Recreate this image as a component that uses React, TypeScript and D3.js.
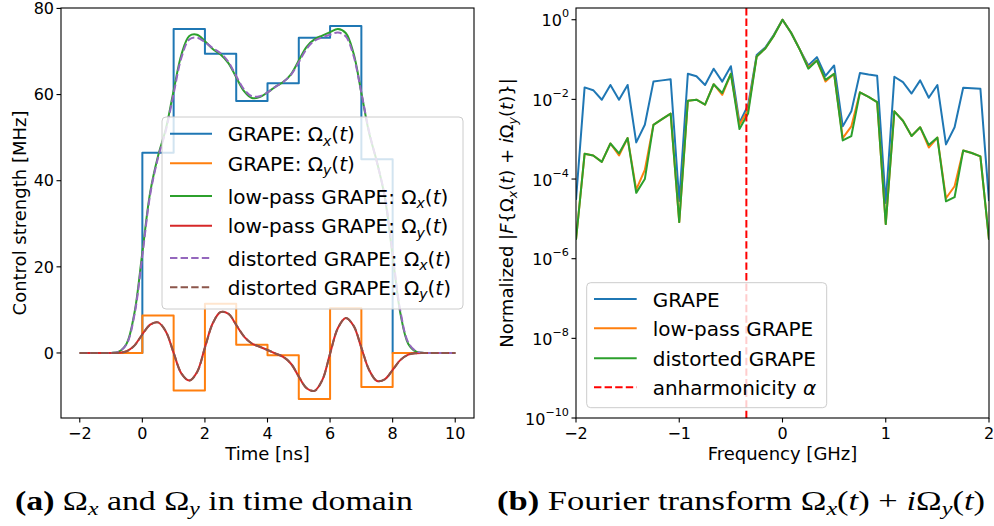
import React from 'react';
import * as d3 from 'd3';

// ---------- (a) control amplitudes in the time domain ----------
const stepTimes = [-2, 0, 1, 2, 3, 4, 5, 6, 7, 8, 10];
const grapeOmegaX = [0, 46.5, 75.2, 69.5, 58.5, 62.6, 73.2, 75.9, 45.0, 0, 0];
const grapeOmegaY = [0, 8.7, -8.7, 11.4, 1.9, -0.55, -10.7, 10.4, -7.9, 0, 0];

// smooth pulses sampled every 0.25 ns from -2 to 10 ns
const smoothTimes = d3.range(-2, 10.0001, 0.25);
const lowpassOmegaX = [
  0, 0, 0, 0, 0, 0.3, 2.2, 9.4,
  23.3, 37.3, 45.7, 52.0, 60.9, 69.3, 73.6, 73.9,
  72.4, 70.6, 69.3, 67.3, 64.0, 60.8, 59.2, 59.4,
  60.5, 61.8, 62.9, 64.7, 67.9, 71.1, 72.8, 73.7,
  74.5, 75.2, 74.3, 69.6, 60.4, 51.0, 44.3, 36.1,
  22.5, 9.1, 2.1, 0.3, 0, 0, 0, 0, 0,
];
const lowpassOmegaY = [
  0, 0, 0, 0, 0, 0.05, 0.41, 1.76,
  4.35, 6.6, 7.1, 5.0, 0.0, -4.8, -6.4, -4.4,
  1.3, 6.9, 9.5, 9.1, 6.5, 3.8, 2.2, 1.45,
  0.68, -0.12, -0.9, -2.5, -5.5, -8.2, -8.8, -6.3,
  -0.15, 5.8, 8.1, 6.3, 1.2, -4.0, -6.5, -6.1,
  -3.9, -1.6, -0.38, -0.05, 0, 0, 0, 0, 0,
];
const distortedOmegaX = [
  0, 0, 0, 0, 0, 0.3, 2.1, 9.0,
  22.6, 36.8, 45.3, 51.6, 60.2, 68.6, 72.8, 73.2,
  72.2, 70.8, 69.6, 67.6, 64.3, 61.2, 59.6, 59.6,
  60.5, 61.8, 62.9, 64.6, 67.5, 70.6, 72.5, 73.3,
  73.9, 74.4, 73.5, 69.0, 60.4, 51.3, 44.2, 36.4,
  23.0, 9.6, 2.4, 0.4, 0, 0, 0, 0, 0,
];
const distortedOmegaY = [
  0, 0, 0, 0, 0, 0.05, 0.4, 1.7,
  4.3, 6.55, 7.1, 5.05, 0.05, -4.75, -6.4, -4.45,
  1.2, 6.85, 9.5, 9.15, 6.55, 3.85, 2.2, 1.45,
  0.7, -0.1, -0.88, -2.45, -5.45, -8.15, -8.8, -6.35,
  -0.2, 5.75, 8.1, 6.35, 1.25, -3.95, -6.5, -6.15,
  -3.95, -1.65, -0.4, -0.06, 0, 0, 0, 0, 0,
];

// ---------- (b) normalised spectra |F{Ωx + iΩy}| ----------
// FFT bins spaced 1/12 GHz, from -2 GHz to 2 GHz
const freqs = d3.range(-24, 25).map((k) => k / 12);
const spectrumGrape = [
  3.0e-5, 2.0e-2, 1.7e-2, 9.8e-3, 2.3e-2, 9.8e-3, 2.3e-2, 8.3e-4, 2.3e-3, 2.8e-2,
  3.0e-2, 3.2e-2, 2.8e-5, 4.4e-2, 3.8e-2, 2.3e-2, 5.9e-2, 2.8e-2, 6.8e-2, 2.6e-3,
  7.1e-3, 0.13, 0.2, 0.42, 1.0, 0.47, 0.18, 7.1e-2, 0.115, 3.9e-2,
  7.1e-2, 2.1e-3, 5.0e-3, 4.6e-2, 4.2e-2, 3.9e-2, 2.5e-5, 3.7e-2, 2.7e-2, 1.4e-2,
  3.0e-2, 1.1e-2, 2.3e-2, 7.4e-4, 2.0e-3, 1.95e-2, 1.9e-2, 1.85e-2, 2.8e-5,
];
const spectrumLowpass = [
  3.0e-6, 4.3e-4, 3.9e-4, 2.7e-4, 7.8e-4, 3.9e-4, 1.07e-3, 5.4e-5, 1.7e-4, 2.3e-3,
  3.2e-3, 4.4e-3, 8.3e-6, 9.3e-3, 9.8e-3, 7.4e-3, 2.4e-2, 1.3e-2, 4.4e-2, 2.3e-3,
  5.5e-3, 0.12, 0.19, 0.4, 1.0, 0.47, 0.18, 6.3e-2, 9.5e-2, 2.8e-2,
  4.4e-2, 1.07e-3, 2.1e-3, 1.5e-2, 1.15e-2, 8.5e-3, 7.4e-6, 5.0e-3, 2.9e-3, 1.2e-3,
  2.0e-3, 6.2e-4, 1.1e-3, 3.3e-5, 6.6e-5, 5.2e-4, 4.5e-4, 3.7e-4, 3.0e-6,
];
const spectrumDistorted = [
  3.0e-6, 4.3e-4, 3.9e-4, 2.7e-4, 7.8e-4, 4.4e-4, 1.07e-3, 4.5e-5, 1.0e-4, 2.3e-3,
  3.2e-3, 4.4e-3, 8.3e-6, 9.3e-3, 9.8e-3, 7.4e-3, 2.4e-2, 1.45e-2, 4.4e-2, 1.8e-3,
  4.4e-3, 0.12, 0.19, 0.4, 1.0, 0.47, 0.18, 5.9e-2, 9.5e-2, 3.1e-2,
  4.4e-2, 9.3e-4, 1.2e-3, 1.5e-2, 1.15e-2, 8.5e-3, 7.4e-6, 5.0e-3, 2.9e-3, 1.2e-3,
  2.0e-3, 7.2e-4, 1.1e-3, 2.75e-5, 3.5e-5, 5.2e-4, 4.5e-4, 3.7e-4, 3.0e-6,
];
const anharmonicity = -0.35; // GHz

const timeTicks = [-2, 0, 2, 4, 6, 8, 10];
const strengthTicks = [0, 20, 40, 60, 80];
const freqTicks = [-2, -1, 0, 1, 2];
const logExponents = [0, -2, -4, -6, -8, -10];

const C = {
  blue: '#1f77b4',
  orange: '#ff7f0e',
  green: '#2ca02c',
  red: '#d62728',
  purple: '#9467bd',
  brown: '#8c564b',
};

const SANS = "'DejaVu Sans', sans-serif";
const SERIF = "'Liberation Serif', 'DejaVu Serif', serif";
const MINUS = '\u2212';
const fmt = (v: number) => (v < 0 ? MINUS + Math.abs(v) : String(v));

// Ω_sub(t) as SVG tspans
function omegaOfT(sub: string, fs: number, key: string) {
  const drop = fs * 0.22;
  return [
    <tspan key={key + 'o'}>Ω</tspan>,
    <tspan key={key + 's'} fontStyle="italic" fontSize={fs * 0.7} dy={drop}>{sub}</tspan>,
    <tspan key={key + 'p'} dy={-drop}>(</tspan>,
    <tspan key={key + 't'} fontStyle="italic">t</tspan>,
    <tspan key={key + 'c'}>)</tspan>,
  ];
}

export default function App() {
  // panel (a) geometry
  const ax = { l: 61, r: 474, t: 8, b: 418 };
  const xT = d3.scaleLinear().domain([-2.6, 10.6]).range([ax.l, ax.r]);
  const yS = d3.scaleLinear().domain([-15.1, 80.1]).range([ax.b, ax.t]);

  // panel (b) geometry
  const bx = { l: 576, r: 989, t: 8, b: 418 };
  const xF = d3.scaleLinear().domain([-2, 2]).range([bx.l, bx.r]);
  const yL = d3.scaleLog().domain([1e-10, 1.97]).range([bx.b, bx.t]);

  const stepLine = d3
    .line<number>()
    .x((_, i) => xT(stepTimes[i]))
    .y((d) => yS(d))
    .curve(d3.curveStepAfter);
  const smoothLine = d3
    .line<number>()
    .x((_, i) => xT(smoothTimes[i]))
    .y((d) => yS(d))
    .curve(d3.curveCatmullRom.alpha(0.5));
  const specLine = d3
    .line<number>()
    .x((_, i) => xF(freqs[i]))
    .y((d) => yL(d));

  const dash = '7.4,3.2';
  const tickFs = 16;
  const labelFs = 18;
  const legFs = 20;

  const legendA = [
    { color: C.blue, dash: undefined, pre: 'GRAPE: ', sub: 'x', y: 133.7 },
    { color: C.orange, dash: undefined, pre: 'GRAPE: ', sub: 'y', y: 163.3 },
    { color: C.green, dash: undefined, pre: 'low-pass GRAPE: ', sub: 'x', y: 196 },
    { color: C.red, dash: undefined, pre: 'low-pass GRAPE: ', sub: 'y', y: 225.7 },
    { color: C.purple, dash, pre: 'distorted GRAPE: ', sub: 'x', y: 258 },
    { color: C.brown, dash, pre: 'distorted GRAPE: ', sub: 'y', y: 287.3 },
  ];
  const legendB = [
    { color: C.blue, dash: undefined, label: 'GRAPE', y: 299 },
    { color: C.orange, dash: undefined, label: 'low-pass GRAPE', y: 328.3 },
    { color: C.green, dash: undefined, label: 'distorted GRAPE', y: 358.3 },
    { color: '#ff0000', dash, label: 'anharmonicity ', y: 387.3 },
  ];

  const capFs = 27;

  return (
    <svg
      width={994}
      height={526}
      viewBox="0 0 994 526"
      style={{ position: 'absolute', left: 0, top: 0, background: '#fff' }}
      fontFamily={SANS}
    >
      <defs>
        <clipPath id="clipA">
          <rect x={ax.l} y={ax.t} width={ax.r - ax.l} height={ax.b - ax.t} />
        </clipPath>
        <clipPath id="clipB">
          <rect x={bx.l} y={bx.t} width={bx.r - bx.l} height={bx.b - bx.t} />
        </clipPath>
      </defs>
      <rect x={0} y={0} width={994} height={526} fill="#fff" />

      {/* ---------- panel (a) ---------- */}
      <g clipPath="url(#clipA)" fill="none" strokeWidth={2} strokeLinejoin="round">
        <path d={stepLine(grapeOmegaX) || ''} stroke={C.blue} />
        <path d={stepLine(grapeOmegaY) || ''} stroke={C.orange} />
        <path d={smoothLine(lowpassOmegaX) || ''} stroke={C.green} />
        <path d={smoothLine(lowpassOmegaY) || ''} stroke={C.red} />
        <path d={smoothLine(distortedOmegaX) || ''} stroke={C.purple} strokeDasharray={dash} />
        <path d={smoothLine(distortedOmegaY) || ''} stroke={C.brown} strokeDasharray={dash} />
      </g>
      <rect x={ax.l} y={ax.t} width={ax.r - ax.l} height={ax.b - ax.t} fill="none" stroke="#000" strokeWidth={1.1} />
      {timeTicks.map((t) => (
        <g key={'tx' + t}>
          <line x1={xT(t)} x2={xT(t)} y1={ax.b} y2={ax.b + 4.5} stroke="#000" strokeWidth={1.1} />
          <text x={xT(t)} y={439} fontSize={tickFs} textAnchor="middle">{fmt(t)}</text>
        </g>
      ))}
      {strengthTicks.map((v) => (
        <g key={'sy' + v}>
          <line x1={ax.l - 4.5} x2={ax.l} y1={yS(v)} y2={yS(v)} stroke="#000" strokeWidth={1.1} />
          <text x={54} y={yS(v) + 5.8} fontSize={tickFs} textAnchor="end">{fmt(v)}</text>
        </g>
      ))}
      <text x={(ax.l + ax.r) / 2} y={460} fontSize={labelFs} textAnchor="middle">Time [ns]</text>
      <text transform={`translate(26,${(ax.t + ax.b) / 2}) rotate(-90)`} fontSize={labelFs} textAnchor="middle">
        Control strength [MHz]
      </text>

      {/* legend (a) */}
      <rect x={162} y={117} width={301} height={192} rx={4} fill="#fff" fillOpacity={0.8} stroke="#cccccc" strokeWidth={1} />
      {legendA.map((e, i) => (
        <g key={'la' + i}>
          <line x1={170} x2={212} y1={e.y} y2={e.y} stroke={e.color} strokeWidth={2} strokeDasharray={e.dash} />
          <text x={227.7} y={e.y + 7.5} fontSize={legFs}>
            {e.pre}
            {omegaOfT(e.sub, legFs, 'a' + i)}
          </text>
        </g>
      ))}

      {/* ---------- panel (b) ---------- */}
      <g clipPath="url(#clipB)" fill="none" strokeWidth={2} strokeLinejoin="round">
        <path d={specLine(spectrumGrape) || ''} stroke={C.blue} />
        <path d={specLine(spectrumLowpass) || ''} stroke={C.orange} />
        <path d={specLine(spectrumDistorted) || ''} stroke={C.green} />
        <line x1={xF(anharmonicity)} x2={xF(anharmonicity)} y1={bx.t} y2={bx.b} stroke="#ff0000" strokeDasharray={dash} />
      </g>
      <rect x={bx.l} y={bx.t} width={bx.r - bx.l} height={bx.b - bx.t} fill="none" stroke="#000" strokeWidth={1.1} />
      {freqTicks.map((f) => (
        <g key={'fx' + f}>
          <line x1={xF(f)} x2={xF(f)} y1={bx.b} y2={bx.b + 4.5} stroke="#000" strokeWidth={1.1} />
          <text x={xF(f)} y={439} fontSize={tickFs} textAnchor="middle">{fmt(f)}</text>
        </g>
      ))}
      {logExponents.map((e) => (
        <g key={'ly' + e}>
          <line x1={bx.l - 4.5} x2={bx.l} y1={yL(Math.pow(10, e))} y2={yL(Math.pow(10, e))} stroke="#000" strokeWidth={1.1} />
          <text x={569} y={yL(Math.pow(10, e)) + 6.5} fontSize={tickFs} textAnchor="end">
            10
            <tspan fontSize={tickFs * 0.7} dy={-9}>{fmt(e)}</tspan>
          </text>
        </g>
      ))}
      <text x={(bx.l + bx.r) / 2} y={460} fontSize={labelFs} textAnchor="middle">Frequency [GHz]</text>
      <text transform={`translate(513,${(bx.t + bx.b) / 2}) rotate(-90)`} fontSize={labelFs} textAnchor="middle">
        Normalized |<tspan fontStyle="italic">F</tspan>{'{'}
        {omegaOfT('x', labelFs, 'yl1')}
        {' + '}
        <tspan fontStyle="italic">i</tspan>
        {omegaOfT('y', labelFs, 'yl2')}
        {'}|'}
      </text>

      {/* legend (b) */}
      <rect x={586.7} y={282.7} width={240} height={125} rx={4} fill="#fff" fillOpacity={0.8} stroke="#cccccc" strokeWidth={1} />
      {legendB.map((e, i) => (
        <g key={'lb' + i}>
          <line x1={594} x2={636.7} y1={e.y} y2={e.y} stroke={e.color} strokeWidth={2} strokeDasharray={e.dash} />
          <text x={652.7} y={e.y + 7.5} fontSize={legFs}>
            {e.label}
            {i === 3 ? <tspan fontStyle="italic">α</tspan> : null}
          </text>
        </g>
      ))}

      {/* ---------- captions ---------- */}
      <text x={15} y={510} fontSize={capFs} fontFamily={SERIF} textLength={398} lengthAdjust="spacingAndGlyphs">
        <tspan fontWeight="bold">(a)</tspan>
        {' Ω'}
        <tspan fontStyle="italic" fontSize={capFs * 0.7} dy={5}>x</tspan>
        <tspan dy={-5}>{' and Ω'}</tspan>
        <tspan fontStyle="italic" fontSize={capFs * 0.7} dy={5}>y</tspan>
        <tspan dy={-5}>{' in time domain'}</tspan>
      </text>
      <text x={497} y={510} fontSize={capFs} fontFamily={SERIF} textLength={488} lengthAdjust="spacingAndGlyphs">
        <tspan fontWeight="bold">(b)</tspan>
        {' Fourier transform Ω'}
        <tspan fontStyle="italic" fontSize={capFs * 0.7} dy={5}>x</tspan>
        <tspan dy={-5}>(</tspan>
        <tspan fontStyle="italic">t</tspan>
        {') + '}
        <tspan fontStyle="italic">i</tspan>
        {'Ω'}
        <tspan fontStyle="italic" fontSize={capFs * 0.7} dy={5}>y</tspan>
        <tspan dy={-5}>(</tspan>
        <tspan fontStyle="italic">t</tspan>
        {')'}
      </text>
    </svg>
  );
}
